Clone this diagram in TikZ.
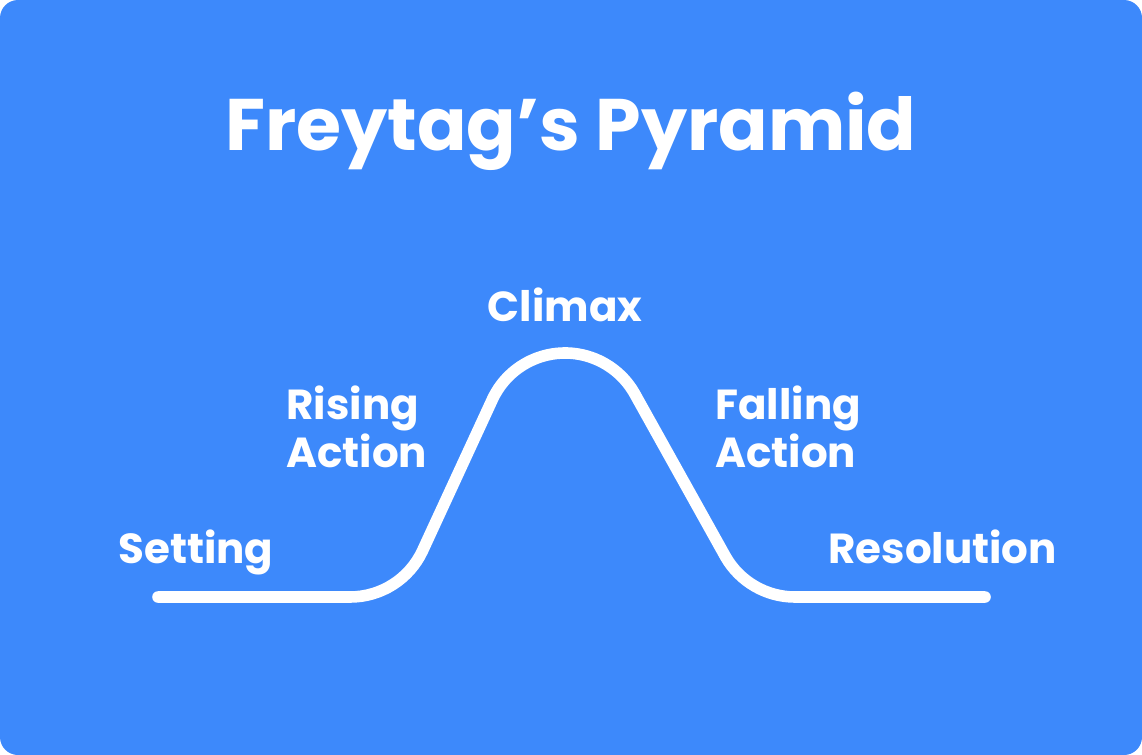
\documentclass[tikz,border=0pt]{standalone}
\usepackage{fontspec}
\setmainfont{Poppins}
\usetikzlibrary{positioning}
\definecolor{skyblue}{HTML}{3D89FB}

\begin{document}
\begin{tikzpicture}[x=0.5pt, y=-0.5pt,
    lbl/.style={text=white, inner sep=0pt, font=\fontsize{21pt}{24pt}\selectfont\bfseries, align=left},
    arc line/.style={draw=white, line width=5.8pt, line cap=round, line join=round}]
    % Background
    \fill[skyblue, rounded corners=9pt] (0,0) rectangle (1142,755);
    \useasboundingbox (0,0) rectangle (1142,755);

    % Title
    \node[text=white, inner sep=0pt, font=\fontsize{36.5pt}{40pt}\selectfont\bfseries, anchor=base] (title) at (571,150) {Freytag’s Pyramid};

    % Curve points
    \coordinate (start) at (158,597);
    \coordinate (risefoot) at (350,597);
    \coordinate (risehigh) at (492.5,399.2);
    \coordinate (falllow) at (725.7,557);
    \coordinate (end) at (985,597);

    % Curve
    \draw[arc line] (start) -- (risefoot)
        arc[start angle=90, end angle=25, radius=80] -- (risehigh)
        arc[start angle=205, end angle=330, radius=80] -- (falllow)
        arc[start angle=150, end angle=90, radius=80] -- (end);

    % Labels
    \node[lbl, anchor=base west] (setting) at (118,563) {Setting};
    \node[lbl, anchor=base west] (rising) at (286,467) {Rising\\Action};
    \node[lbl, anchor=base] (climax) at (565,321) {Climax};
    \node[lbl, anchor=base west] (falling) at (715,467) {Falling\\Action};
    \node[lbl, anchor=base west] (resolution) at (828,563) {Resolution};
\end{tikzpicture}
\end{document}
